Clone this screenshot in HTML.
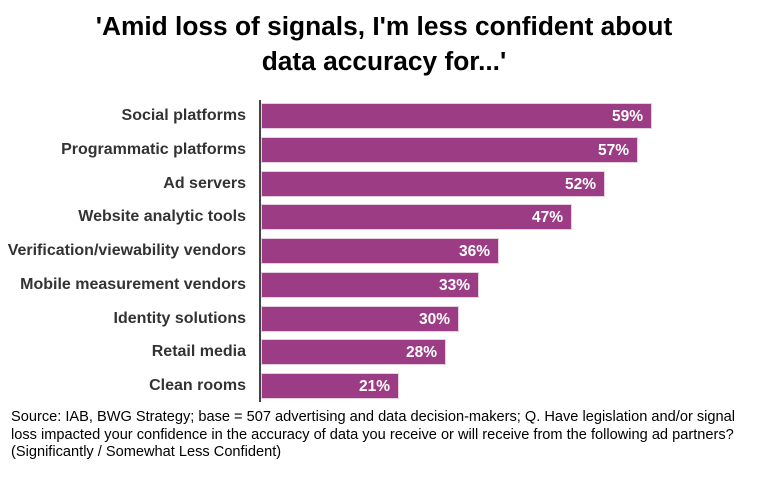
<!DOCTYPE html>
<html><head><style>
body{margin:0;width:768px;height:481px;background:#fff;font-family:"Liberation Sans",Arial,sans-serif;position:relative;overflow:hidden}
.t{position:absolute;left:0;width:768px;text-align:center;font-weight:bold;font-size:26.3px;color:#000;line-height:35px;top:9px}
.l{position:absolute;right:522px;font-weight:bold;font-size:16px;color:#333;white-space:nowrap;height:26px;line-height:26px}
.b{position:absolute;left:261px;height:26px;background:#9b3c85;border:1px solid #e6d0e0;box-sizing:border-box}
.b span{position:absolute;right:8px;top:0;line-height:25px;color:#fff;font-weight:bold;font-size:15.5px}
.ax{position:absolute;left:259px;top:100px;width:2px;height:302px;background:#444}
.s{position:absolute;left:11px;top:409px;width:760px;font-size:14.6px;line-height:17.5px;color:#000;white-space:nowrap}
</style></head><body>
<div class="t">'Amid loss of signals, I'm less confident about<br>data accuracy for...'</div>
<div class="ax"></div>
<div class="l" style="top:103px">Social platforms</div><div class="b" style="top:103px;width:391px"><span>59%</span></div>
<div class="l" style="top:137px">Programmatic platforms</div><div class="b" style="top:137px;width:377px"><span>57%</span></div>
<div class="l" style="top:171px">Ad servers</div><div class="b" style="top:171px;width:344px"><span>52%</span></div>
<div class="l" style="top:204px">Website analytic tools</div><div class="b" style="top:204px;width:311px"><span>47%</span></div>
<div class="l" style="top:238px">Verification/viewability vendors</div><div class="b" style="top:238px;width:238px"><span>36%</span></div>
<div class="l" style="top:272px">Mobile measurement vendors</div><div class="b" style="top:272px;width:218px"><span>33%</span></div>
<div class="l" style="top:306px">Identity solutions</div><div class="b" style="top:306px;width:198px"><span>30%</span></div>
<div class="l" style="top:339px">Retail media</div><div class="b" style="top:339px;width:185px"><span>28%</span></div>
<div class="l" style="top:373px">Clean rooms</div><div class="b" style="top:373px;width:138px"><span>21%</span></div>
<div class="s">Source: IAB, BWG Strategy; base = 507 advertising and data decision-makers; Q. Have legislation and/or signal<br>loss impacted your confidence in the accuracy of data you receive or will receive from the following ad partners?<br>(Significantly / Somewhat Less Confident)</div>
</body></html>
